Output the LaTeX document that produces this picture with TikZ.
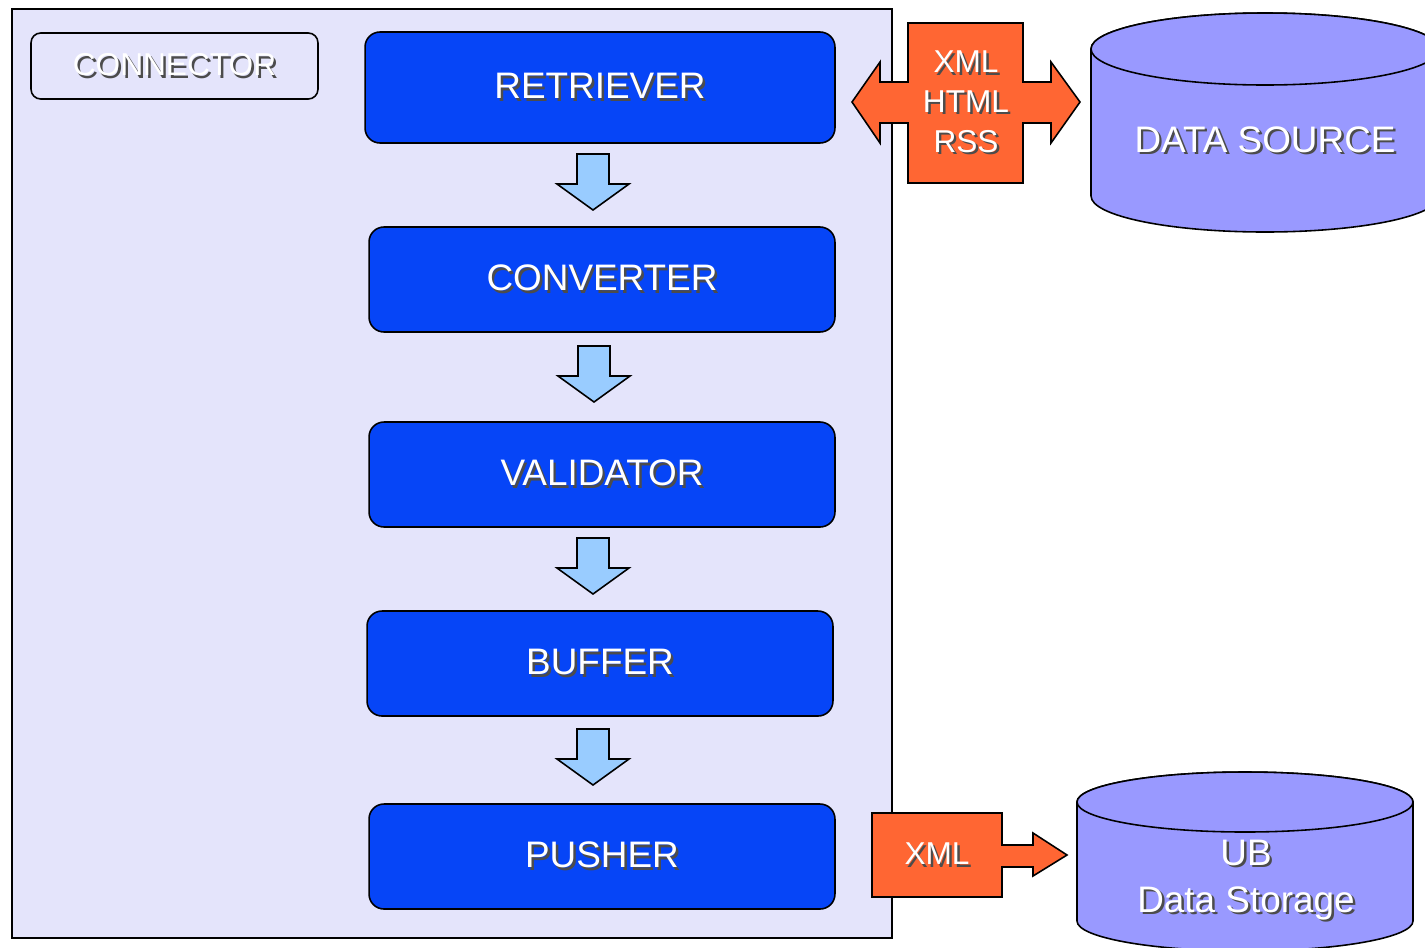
\documentclass[tikz,border=0pt]{standalone}
\usepackage{fontspec}
\setmainfont{Liberation Sans}
\usetikzlibrary{calc}

\definecolor{panel}{HTML}{E4E4FB}
\definecolor{stageblue}{HTML}{0645F7}
\definecolor{flowblue}{HTML}{99CCFF}
\definecolor{fmtorange}{HTML}{FF6633}
\definecolor{dbfill}{HTML}{9999FF}

\newcommand{\shadowtxt}[1]{\leavevmode\rlap{\kern1.4pt\raisebox{-1.4pt}{\textcolor{black!70}{#1}}}#1}

\tikzset{
	stage/.style={draw=black, line width=0.9pt, fill=stageblue, rounded corners=8.5pt, minimum width=9.32cm, minimum height=2.1cm, text=white, font=\fontsize{21}{25}\selectfont},
	fmt/.style={draw=black, line width=0.9pt, fill=fmtorange},
	fmttext/.style={text=white, align=center, font=\fontsize{18}{22.7}\selectfont},
	db/.style={draw=black, line width=0.9pt, fill=dbfill},
	dbtext/.style={text=white, align=center, font=\fontsize{21}{26.6}\selectfont},
	flowdown/.pic={
		\draw[line width=0.9pt, fill=flowblue] (-16,0) -- (16,0) -- (16,-30) -- (36,-30) -- (0,-56) -- (-36,-30) -- (-16,-30) -- cycle;
	}
}

\begin{document}
\begin{tikzpicture}[x=0.02cm, y=0.02cm]
	\useasboundingbox (0,0) rectangle (1425,-947);
	\clip (0,0) rectangle (1425,-947);
	\fill[white] (0,0) rectangle (1425,-947);

	\draw[line width=0.9pt, fill=panel] (12,-9) rectangle (892,-938);
	\node[draw=black, line width=0.9pt, fill=panel, rounded corners=5.5pt, minimum width=5.74cm, minimum height=1.32cm, text=white, font=\fontsize{18}{22}\selectfont] (conn) at (174.5,-66) {\shadowtxt{CONNECTOR}};

	\node[stage, minimum width=9.4cm, minimum height=2.22cm] (ret) at (600,-87.5) {\shadowtxt{RETRIEVER}};
	\node[stage] (conv) at (602,-279.5) {\shadowtxt{CONVERTER}};
	\node[stage] (valid) at (602,-474.5) {\shadowtxt{VALIDATOR}};
	\node[stage] (buf) at (600,-663.5) {\shadowtxt{BUFFER}};
	\node[stage] (push) at (602,-856.5) {\shadowtxt{PUSHER}};

	\foreach \a/\b in {ret/conv, conv/valid, valid/buf, buf/push}
		\pic at ($(\a.south)!0.5!(\b.north)+(-8,31)$) {flowdown};

	\draw[fmt] (908,-23) -- (1023,-23) -- (1023,-82) -- (1051,-82) -- (1051,-62) -- (1080,-102) -- (1051,-143) -- (1051,-123) -- (1023,-123) -- (1023,-183) -- (908,-183) -- (908,-123) -- (880,-123) -- (880,-143) -- (852,-102) -- (880,-62) -- (880,-82) -- (908,-82) -- cycle;
	\node[fmttext] (fmtin) at (966,-103) {\shadowtxt{XML}\\\shadowtxt{HTML}\\\shadowtxt{RSS}};

	\draw[fmt] (872,-813) -- (1002,-813) -- (1002,-845) -- (1033,-845) -- (1033,-833) -- (1067,-855) -- (1033,-876) -- (1033,-867) -- (1002,-867) -- (1002,-897) -- (872,-897) -- cycle;
	\node[fmttext] (fmtout) at (937,-855) {\shadowtxt{XML}};

	\draw[db] (1091,-49) -- (1091,-196) arc[start angle=180, end angle=360, x radius=174, y radius=36] -- (1439,-49) arc[start angle=0, end angle=180, x radius=174, y radius=36] -- cycle;
	\draw[db] (1265,-49) ellipse [x radius=174, y radius=36];
	\node[dbtext] (src) at (1265,-141) {\shadowtxt{DATA SOURCE}};

	\draw[db] (1077,-802) -- (1077,-921) arc[start angle=180, end angle=360, x radius=168, y radius=30] -- (1413,-802) arc[start angle=0, end angle=180, x radius=168, y radius=30] -- cycle;
	\draw[db] (1245,-802) ellipse [x radius=168, y radius=30];
	\node[dbtext] (store) at (1246,-881) {\shadowtxt{UB}\\\shadowtxt{Data Storage}};
\end{tikzpicture}
\end{document}
